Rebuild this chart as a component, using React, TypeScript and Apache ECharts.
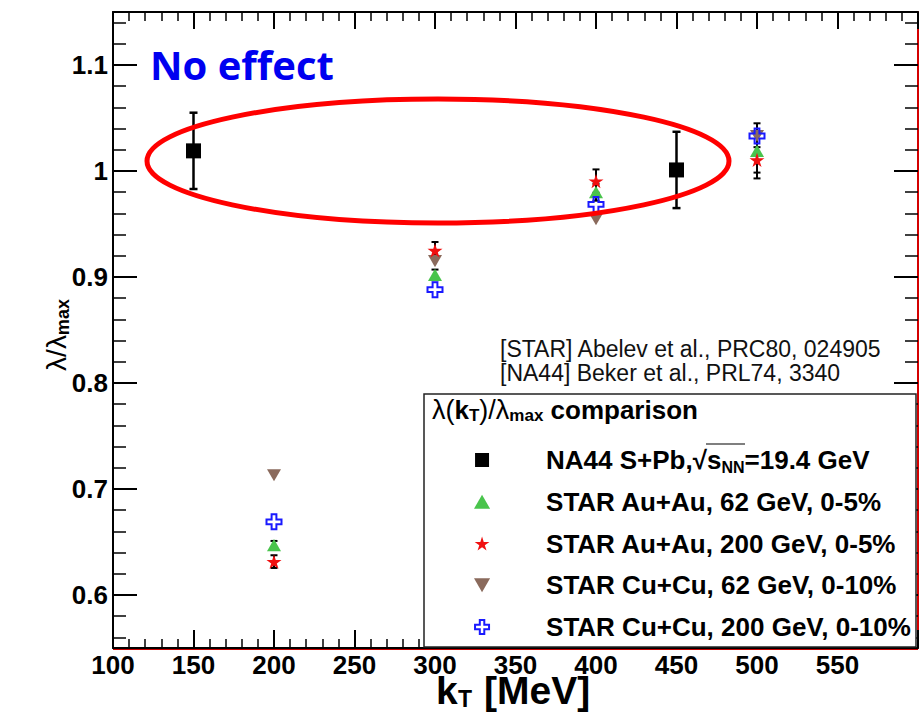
import React, { useEffect, useRef } from 'react';
import * as echarts from 'echarts';

// ---- data ----
const na44Kt = [150, 450];
const na44Ratio = [1.019, 1.001];
const na44Err = [0.036, 0.036];

const starKt = [200, 300, 400, 500];
const auau62Ratio = [0.647, 0.902, 0.98, 1.019];
const auau62Err = [0.004, 0.005, 0.008, 0.026];
const auau200Ratio = [0.6315, 0.925, 0.9905, 1.0105];
const auau200Err = [0.006, 0.008, 0.011, 0.012];
const cucu62Ratio = [0.713, 0.915, 0.9545, 1.033];
const cucu200Ratio = [0.669, 0.888, 0.9685, 1.033];

const seriesNames = [
  'NA44 S+Pb, 19.4 GeV',
  'STAR Au+Au, 62 GeV, 0-5%',
  'STAR Au+Au, 200 GeV, 0-5%',
  'STAR Cu+Cu, 62 GeV, 0-10%',
  'STAR Cu+Cu, 200 GeV, 0-10%',
];

const yMajorTicks = [0.6, 0.7, 0.8, 0.9, 1.0, 1.1];
const yMinorTicks = [
  0.56, 0.58, 0.62, 0.64, 0.66, 0.68, 0.72, 0.74, 0.76, 0.78, 0.82, 0.84, 0.86, 0.88,
  0.92, 0.94, 0.96, 0.98, 1.02, 1.04, 1.06, 1.08, 1.12, 1.14,
];

const references = ['[STAR] Abelev et al., PRC80, 024905', '[NA44] Beker et al., PRL74, 3340'];

const FONT = 'Liberation Sans, Arial, Helvetica, sans-serif';

const SQUARE_PATH = 'path://M0,0 H100 V100 H0 Z';
const UP_TRI_PATH = 'path://M50,0 L100,87 L0,87 Z';
const STAR_PATH =
  'path://M50,0 L61,35 L98,35 L68,57 L79,91 L50,70 L21,91 L32,57 L2,35 L39,35 Z';
const DOWN_TRI_PATH = 'path://M0,0 L100,0 L50,87 Z';
const CROSS_PATH = 'path://M34,0 H66 V34 H100 V66 H66 V100 H34 V66 H0 V34 H34 Z';

const errorRender = (capHalf: number, width: number) => (params: any, api: any) => {
  const x = api.value(0);
  const y = api.value(1);
  const e = api.value(2);
  const top = api.coord([x, y + e]);
  const bot = api.coord([x, y - e]);
  const style = { stroke: '#000', lineWidth: width };
  return {
    type: 'group',
    children: [
      { type: 'line', shape: { x1: top[0], y1: top[1], x2: bot[0], y2: bot[1] }, style },
      { type: 'line', shape: { x1: top[0] - capHalf, y1: top[1], x2: top[0] + capHalf, y2: top[1] }, style },
      { type: 'line', shape: { x1: bot[0] - capHalf, y1: bot[1], x2: bot[0] + capHalf, y2: bot[1] }, style },
    ],
  };
};

const yAxisBase = (position: 'left' | 'right') => ({
  type: 'value',
  position,
  min: 0.55,
  max: 1.15,
  splitLine: { show: false },
});

const boldText = (x: number, y: number, text: string, size: number, z = 5) => ({
  type: 'text',
  z,
  x,
  y,
  style: {
    text,
    fontFamily: FONT,
    fontWeight: 'bold',
    fontSize: size,
    fill: '#000',
    verticalAlign: 'middle',
  },
});

export default function App() {
  const ref = useRef<HTMLDivElement>(null);

  useEffect(() => {
    if (!ref.current) return;
    const chart = echarts.init(ref.current, undefined, { renderer: 'svg' });

    const legendRich = {
      t: { fontFamily: FONT, fontWeight: 'bold', fontSize: 26, lineHeight: 30, color: '#000' },
      sub: { fontFamily: FONT, fontWeight: 'bold', fontSize: 16, lineHeight: 14, verticalAlign: 'bottom', color: '#000' },
    };

    const option: any = {
      animation: false,
      backgroundColor: '#fff',
      grid: { left: 113, right: 1, top: 12, bottom: 69, containLabel: false },
      xAxis: [
        {
          type: 'value',
          position: 'bottom',
          min: 100,
          max: 600,
          interval: 50,
          splitLine: { show: false },
          axisLine: { show: true, lineStyle: { color: '#000', width: 2 } },
          axisTick: { show: true, inside: true, length: 18, lineStyle: { color: '#000', width: 2 } },
          minorTick: { show: true, splitNumber: 5, length: 9, lineStyle: { color: '#000', width: 1.5 } },
          axisLabel: {
            show: true,
            showMaxLabel: false,
            margin: 8,
            lineHeight: 18,
            fontFamily: FONT,
            fontWeight: 'bold',
            fontSize: 26,
            color: '#000',
          },
        },
        {
          type: 'value',
          position: 'top',
          min: 100,
          max: 600,
          interval: 50,
          splitLine: { show: false },
          axisLine: { show: true, lineStyle: { color: '#000', width: 2 } },
          axisTick: { show: true, inside: true, length: 17, lineStyle: { color: '#000', width: 2 } },
          minorTick: { show: true, splitNumber: 5, length: 9, lineStyle: { color: '#000', width: 1.5 } },
          axisLabel: { show: false },
        },
      ],
      yAxis: [
        {
          ...yAxisBase('left'),
          axisLine: { show: true, lineStyle: { color: '#000', width: 2 } },
          axisTick: { show: true, inside: true, length: 24, customValues: yMajorTicks, lineStyle: { color: '#000', width: 2 } },
          axisLabel: {
            show: true,
            customValues: yMajorTicks,
            margin: 5,
            fontFamily: FONT,
            fontWeight: 'bold',
            fontSize: 26,
            color: '#000',
          },
        },
        {
          ...yAxisBase('left'),
          axisLine: { show: false },
          axisTick: { show: true, inside: true, length: 13, customValues: yMinorTicks, lineStyle: { color: '#000', width: 1.5 } },
          axisLabel: { show: false },
        },
        {
          ...yAxisBase('right'),
          axisLine: { show: true, lineStyle: { color: '#d40000', width: 2 } },
          axisTick: { show: true, inside: true, length: 24, customValues: yMajorTicks, lineStyle: { color: '#000', width: 2 } },
          axisLabel: { show: false },
        },
        {
          ...yAxisBase('right'),
          axisLine: { show: false },
          axisTick: { show: true, inside: true, length: 13, customValues: yMinorTicks, lineStyle: { color: '#000', width: 1.5 } },
          axisLabel: { show: false },
        },
      ],
      legend: {
        orient: 'vertical',
        left: 474,
        top: 445,
        padding: 0,
        itemWidth: 118,
        itemHeight: 14,
        itemGap: 11.75,
        selectedMode: false,
        data: [
          { name: seriesNames[0] },
          { name: seriesNames[1] },
          { name: seriesNames[2] },
          { name: seriesNames[3] },
          {
            name: seriesNames[4],
            itemStyle: { color: 'rgba(0,0,0,0)', borderColor: '#1a1aff', borderWidth: 2 },
          },
        ],
        textStyle: {
          fontFamily: FONT,
          fontWeight: 'bold',
          fontSize: 26,
          lineHeight: 30,
          color: '#000',
          rich: legendRich,
        },
        formatter: (name: string) => {
          if (name === seriesNames[0]) {
            return '{t|NA44 S+Pb,\u221A}{t|s}{sub|NN}{t|=19.4 GeV}';
          }
          return '{t|' + name + '}';
        },
      },
      series: [
        {
          type: 'custom',
          name: 'na44err',
          renderItem: errorRender(4, 2.5),
          data: na44Kt.map((k, i) => [k, na44Ratio[i], na44Err[i]]),
          encode: { x: 0, y: 1 },
          z: 1,
        },
        {
          type: 'custom',
          name: 'starerr',
          renderItem: errorRender(3.5, 2),
          data: [
            ...starKt.map((k, i) => [k, auau200Ratio[i], auau200Err[i]]),
            ...starKt.map((k, i) => [k, auau62Ratio[i], auau62Err[i]]),
          ],
          encode: { x: 0, y: 1 },
          z: 1,
        },
        {
          type: 'scatter',
          name: seriesNames[0],
          symbol: SQUARE_PATH,
          symbolSize: 15,
          symbolKeepAspect: true,
          itemStyle: { color: '#000', opacity: 1 },
          data: na44Kt.map((k, i) => [k, na44Ratio[i]]),
        },
        {
          type: 'scatter',
          name: seriesNames[1],
          symbol: UP_TRI_PATH,
          symbolSize: 14,
          symbolKeepAspect: true,
          itemStyle: { color: '#49c44c', opacity: 1 },
          data: starKt.map((k, i) => [k, auau62Ratio[i]]),
        },
        {
          type: 'scatter',
          name: seriesNames[3],
          symbol: DOWN_TRI_PATH,
          symbolSize: 14,
          symbolKeepAspect: true,
          itemStyle: { color: '#8a6a5c', opacity: 1 },
          data: starKt.map((k, i) => [k, cucu62Ratio[i]]),
        },
        {
          type: 'scatter',
          name: seriesNames[2],
          symbol: STAR_PATH,
          symbolSize: 15,
          symbolKeepAspect: true,
          itemStyle: { color: '#f01010', opacity: 1 },
          data: starKt.map((k, i) => [k, auau200Ratio[i]]),
        },
        {
          type: 'scatter',
          name: seriesNames[4],
          symbol: CROSS_PATH,
          symbolSize: 15,
          symbolKeepAspect: true,
          itemStyle: { color: 'rgba(0,0,0,0)', borderColor: '#1a1aff', borderWidth: 2, opacity: 1 },
          data: starKt.map((k, i) => [k, cucu200Ratio[i]]),
        },
      ],
      graphic: [
        // red line just below the bottom frame
        {
          type: 'line',
          z: 0,
          shape: { x1: 113, y1: 649.5, x2: 918, y2: 649.5 },
          style: { stroke: '#c80000', lineWidth: 1.2 },
        },
        // legend box
        {
          type: 'rect',
          z: 3,
          shape: { x: 424, y: 394, width: 492, height: 253 },
          style: { fill: '#fff', stroke: '#222', lineWidth: 1.5 },
        },
        {
          type: 'text',
          z: 5,
          x: 432,
          y: 410,
          style: {
            text: '{l|\u03BB(}{b|k}{s|T}{l|)/\u03BB}{s|max}{b| comparison}',
            verticalAlign: 'middle',
            rich: {
              l: { fontFamily: FONT, fontSize: 27, lineHeight: 28, color: '#000' },
              b: { fontFamily: FONT, fontWeight: 'bold', fontSize: 26, lineHeight: 28, color: '#000' },
              s: { fontFamily: FONT, fontWeight: 'bold', fontSize: 17, lineHeight: 12, verticalAlign: 'bottom', color: '#000' },
            },
          },
        },
        // overline of sqrt(s_NN)
        {
          type: 'line',
          z: 5,
          shape: { x1: 706, y1: 444, x2: 745, y2: 444 },
          style: { stroke: '#000', lineWidth: 1.2 },
        },
        // references
        {
          type: 'text',
          z: 1,
          x: 500,
          y: 349,
          style: {
            text: references[0],
            fontFamily: FONT,
            fontSize: 23,
            fill: '#111',
            verticalAlign: 'middle',
          },
        },
        {
          type: 'text',
          z: 1,
          x: 500,
          y: 373,
          style: {
            text: references[1],
            fontFamily: FONT,
            fontSize: 23,
            fill: '#111',
            verticalAlign: 'middle',
          },
        },
        // annotation
        {
          type: 'text',
          z: 5,
          x: 150,
          y: 64,
          style: {
            text: 'No effect',
            fontFamily: 'Open Sans, Noto Sans, sans-serif',
            fontWeight: 'bold',
            fontSize: 40,
            fill: '#0000f0',
            verticalAlign: 'middle',
          },
        },
        {
          type: 'ellipse',
          z: 5,
          shape: { cx: 438, cy: 161, rx: 291, ry: 62 },
          style: { fill: 'none', stroke: '#ff0000', lineWidth: 5 },
        },
        // x axis title: k_T [MeV]
        boldText(436, 690, 'k', 39),
        boldText(458, 699, 'T', 23),
        boldText(484, 690, '[MeV]', 39),
        // y axis title
        {
          type: 'text',
          z: 5,
          x: 56,
          y: 335,
          rotation: Math.PI / 2,
          style: {
            text: '{l|\u03BB/\u03BB}{m|max}',
            align: 'center',
            verticalAlign: 'middle',
            rich: {
              l: { fontFamily: FONT, fontSize: 28, lineHeight: 32, color: '#000' },
              m: { fontFamily: FONT, fontWeight: 'bold', fontSize: 18, lineHeight: 12, verticalAlign: 'bottom', color: '#000' },
            },
          },
        },
      ],
    };

    chart.setOption(option);
    return () => {
      chart.dispose();
    };
  }, []);

  return (
    <div
      ref={ref}
      style={{ position: 'fixed', left: 0, top: 0, width: 919, height: 717, background: '#fff' }}
    />
  );
}
